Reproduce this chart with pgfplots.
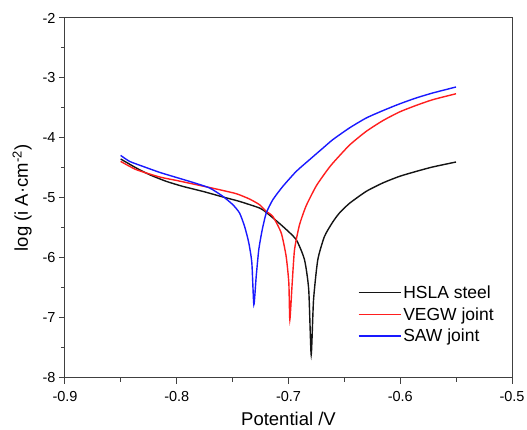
\documentclass[border=0pt]{standalone}
\usepackage{fontspec}
\setmainfont{Liberation Sans}
\usepackage{pgfplots}
\pgfplotsset{compat=1.18}

\definecolor{hsla}{RGB}{20,20,20}
\definecolor{vegw}{RGB}{255,30,30}
\definecolor{saw}{RGB}{25,25,255}

\pgfplotsset{
    longline/.style={legend image code/.code={\draw[##1, line width=1.4pt] (-3pt,0pt) -- (39pt,0pt);}},
}

\begin{document}
\begin{tikzpicture}
\begin{axis}[
    at={(0,0)}, anchor=south west,
    scale only axis,
    width=447pt, height=360pt,
    xmin=-0.9, xmax=-0.5,
    ymin=-8, ymax=-2,
    xtick={-0.9,-0.8,-0.7,-0.6,-0.5},
    ytick={-8,-7,-6,-5,-4,-3,-2},
    minor x tick num=1,
    minor y tick num=1,
    xtick pos=lower, ytick pos=left,
    tick align=outside,
    major tick length=6pt, minor tick length=4pt,
    axis line style={black!75, line width=1pt},
    every tick/.style={black!75, line width=1pt},
    tick label style={font=\fontsize{14.5}{16}\selectfont},
    xticklabel style={/pgf/number format/fixed, /pgf/number format/precision=1, yshift=-4pt},
    /pgf/number format/assume math mode=true,
    xlabel={Potential /V},
    ylabel={log (i A·cm\textsuperscript{-2})},
    label style={font=\fontsize{18.5}{20}\selectfont},
    xlabel style={yshift=-3pt},
    ylabel style={yshift=4pt},
    every axis plot/.append style={line width=1.4pt},
    longline,
    legend style={at={(0.648,0.085)}, anchor=south west, draw=none, fill=none,
        font=\fontsize{17.5}{19}\selectfont, row sep=3.5pt},
    legend cell align=left,
    smooth, tension=0.35,
]
\addplot[hsla] coordinates {
(-0.8502,-4.35)(-0.8362,-4.50)(-0.8243,-4.612)(-0.8093,-4.723)(-0.7945,-4.807)
(-0.7766,-4.89)(-0.7587,-4.983)(-0.7438,-5.057)(-0.7259,-5.167)(-0.7199,-5.24)
(-0.7051,-5.473)(-0.6931,-5.695)(-0.6857,-6.028)(-0.6819,-6.528)(-0.6797,-7.612)
(-0.6776,-6.70)(-0.6738,-6.03)(-0.6678,-5.64)(-0.6604,-5.40)(-0.6544,-5.25)
(-0.6455,-5.09)(-0.6305,-4.89)(-0.6157,-4.75)(-0.6008,-4.64)(-0.5858,-4.557)
(-0.5710,-4.483)(-0.5501,-4.40)
};
\addlegendentry{HSLA steel}
\addplot[vegw] coordinates {
(-0.8502,-4.39)(-0.8362,-4.528)(-0.8153,-4.65)(-0.8004,-4.707)(-0.7825,-4.778)
(-0.7646,-4.85)(-0.7468,-4.928)(-0.7349,-5.017)(-0.7259,-5.112)(-0.7199,-5.223)
(-0.7140,-5.307)(-0.7065,-5.583)(-0.7021,-5.973)(-0.6997,-6.417)(-0.6988,-7.028)
(-0.6967,-6.42)(-0.6946,-5.86)(-0.6902,-5.45)(-0.6842,-5.13)(-0.6752,-4.80)
(-0.6663,-4.56)(-0.6604,-4.42)(-0.6455,-4.12)(-0.6305,-3.89)(-0.6157,-3.712)
(-0.6008,-3.567)(-0.5858,-3.457)(-0.5710,-3.362)(-0.5501,-3.262)
};
\addlegendentry{VEGW joint}
\addplot[saw] coordinates {
(-0.8502,-4.29)(-0.8422,-4.39)(-0.8303,-4.473)(-0.8153,-4.573)(-0.8004,-4.657)
(-0.7856,-4.74)(-0.7706,-4.833)(-0.7587,-4.973)(-0.7498,-5.112)(-0.7438,-5.25)
(-0.7393,-5.473)(-0.7355,-5.75)(-0.7328,-6.083)(-0.7310,-6.778)(-0.7289,-6.307)
(-0.7266,-5.862)(-0.7235,-5.528)(-0.7199,-5.25)(-0.7140,-5.028)(-0.7051,-4.807)
(-0.6931,-4.557)(-0.6812,-4.362)(-0.6693,-4.17)(-0.6604,-4.028)(-0.6455,-3.833)
(-0.6305,-3.667)(-0.6157,-3.545)(-0.6008,-3.433)(-0.5858,-3.333)(-0.5710,-3.25)
(-0.5501,-3.15)
};
\addlegendentry{SAW joint}
\end{axis}
\pgfresetboundingbox
\path[use as bounding box] (-65pt,-52pt) rectangle (462pt,378pt);
\end{tikzpicture}
\end{document}
